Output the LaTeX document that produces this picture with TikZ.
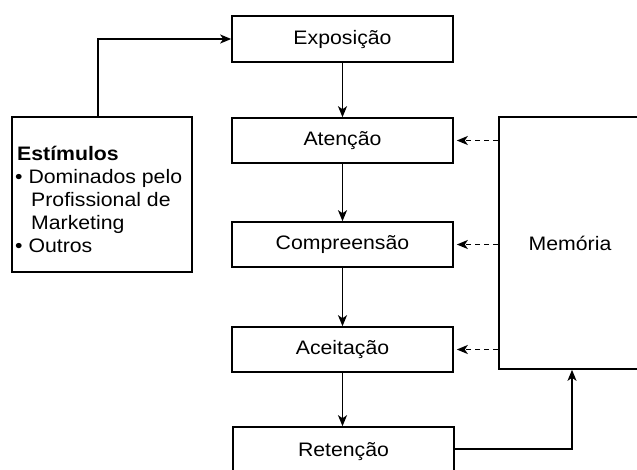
\documentclass[tikz,border=0pt]{standalone}
\usepackage{fontspec}
\setmainfont{Liberation Sans}[FakeStretch=1.09]
\usetikzlibrary{arrows.meta}
\tikzset{
  box/.style={draw, line width=1.6pt, minimum width=221pt, inner sep=0pt},
  arr/.style={line width=1.5pt, -{Stealth[length=11pt,width=9pt,inset=3pt]}},
  darr/.style={arr, line width=1.7pt, dash pattern=on 5pt off 4pt},
  txt/.style={font=\fontsize{19.5}{23}\selectfont}
}
\begin{document}
\begin{tikzpicture}[x=1pt,y=-1pt]
\useasboundingbox (0,0) rectangle (637,469);
\node[box, txt, minimum height=46pt] (expo) at (342.5,39) {Exposição};
\node[box, txt, minimum height=45pt] (aten) at (342.5,140.5) {Atenção};
\node[box, txt, minimum height=45pt] (comp) at (342.5,244.5) {Compreensão};
\node[box, txt, minimum height=45pt] (acei) at (342.5,349.5) {Aceitação};
\node[box, txt, minimum height=50pt] (ret) at (343.5,452) {Retenção};
\node[box, txt, minimum width=142pt, minimum height=252pt] (mem) at (570,243) {Memória};
\node[box, minimum width=180pt, minimum height=155pt] (est) at (102,194.5) {};
\node[txt, anchor=base west, align=left, inner sep=0pt] (esttxt) at (15,252)
  {\textbf{\hspace*{2pt}Estímulos}\\
   • Dominados pelo\\
   \hspace*{16pt}Profissional de\\
   \hspace*{16pt}Marketing\\
   • Outros};
\coordinate (bx) at (98,0);
\draw[arr] (est.north -| bx) |- (expo.west);
\draw[arr] (expo.south) -- (aten.north);
\draw[arr] (aten.south) -- (comp.north);
\draw[arr] (comp.south) -- (acei.north);
\draw[arr] (acei.south) -- (ret.north -| acei.south);
\draw[darr] (mem.west |- aten.east) -- ([xshift=3pt]aten.east);
\draw[darr] (mem.west |- comp.east) -- ([xshift=3pt]comp.east);
\draw[darr] (mem.west |- acei.east) -- ([xshift=3pt]acei.east);
\coordinate (rb) at (572,449);
\draw[arr] (ret.east |- rb) -| (mem.south -| rb);
\end{tikzpicture}
\end{document}
